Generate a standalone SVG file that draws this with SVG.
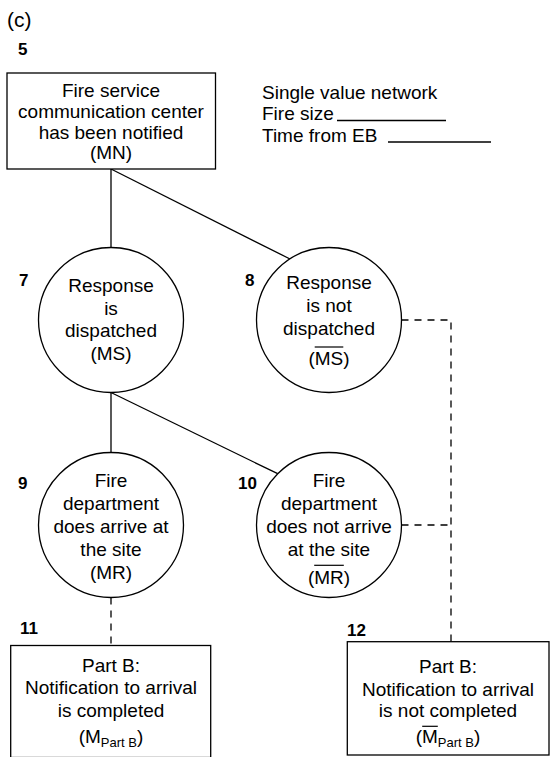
<svg xmlns="http://www.w3.org/2000/svg" width="550" height="757" viewBox="0 0 550 757">
  <style>
    text { font-family: "Liberation Sans", Arial, Helvetica, sans-serif; fill: #000; }
    .t { font-size: 19px; text-anchor: middle; }
    .l { font-size: 19px; }
    .cap { font-size: 21px; }
    .num { font-size: 17px; font-weight: bold; }
    .sub { font-size: 13px; }
    .shape { fill: #fff; stroke: #000; stroke-width: 1.3; }
    .edge { fill: none; stroke: #000; stroke-width: 1.3; }
    .dash { fill: none; stroke: #000; stroke-width: 1.3; stroke-dasharray: 7 6; }
    .bar { stroke: #000; stroke-width: 1.2; }
  </style>
  <rect width="550" height="757" fill="#fff"/>

  <text class="cap" x="7" y="27">(c)</text>

  <!-- connectors -->
  <g id="connectors">
    <line class="edge" x1="111" y1="169" x2="111" y2="247.5"/>
    <line class="edge" x1="111" y1="169" x2="290" y2="259"/>
    <line class="edge" x1="111" y1="392.5" x2="111" y2="452.5"/>
    <line class="edge" x1="111" y1="392.5" x2="277.7" y2="473.7"/>
    <polyline class="dash" points="401.5,320 451,320 451,642"/>
    <line class="dash" x1="401.5" y1="525" x2="451" y2="525"/>
    <line class="dash" x1="111" y1="597.5" x2="111" y2="645.5"/>
  </g>

  <!-- legend -->
  <g id="legend">
    <text class="l" x="262" y="98.5">Single value network</text>
    <text class="l" x="262" y="120">Fire size</text>
    <line class="edge" x1="337" y1="120.5" x2="446" y2="120.5"/>
    <text class="l" x="262" y="141.5">Time from EB</text>
    <line class="edge" x1="388" y1="142" x2="491" y2="142"/>
  </g>

  <!-- node 5 -->
  <g id="node5">
    <text class="num" x="18" y="55">5</text>
    <rect class="shape" x="7" y="73" width="208.5" height="96"/>
    <text class="t" x="111" y="97.3">Fire service</text>
    <text class="t" x="111" y="118.3">communication center</text>
    <text class="t" x="111" y="138.5">has been notified</text>
    <text class="t" x="111" y="158.5">(MN)</text>
  </g>

  <!-- node 7 -->
  <g id="node7">
    <text class="num" x="19" y="285.7">7</text>
    <circle class="shape" cx="111" cy="320" r="72.5"/>
    <text class="t" x="111" y="291.7">Response</text>
    <text class="t" x="111" y="314.5">is</text>
    <text class="t" x="111" y="337">dispatched</text>
    <text class="t" x="111" y="360">(MS)</text>
  </g>

  <!-- node 8 -->
  <g id="node8">
    <text class="num" x="245" y="285.7">8</text>
    <circle class="shape" cx="329" cy="320" r="72.5"/>
    <text class="t" x="329" y="289.3">Response</text>
    <text class="t" x="329" y="311.7">is not</text>
    <text class="t" x="329" y="335">dispatched</text>
    <text class="t" x="329" y="364.5">(MS)</text>
    <line class="bar" x1="314.7" y1="347" x2="343.3" y2="347"/>
  </g>

  <!-- node 9 -->
  <g id="node9">
    <text class="num" x="18" y="489">9</text>
    <circle class="shape" cx="111" cy="525" r="72.5"/>
    <text class="t" x="111" y="487.3">Fire</text>
    <text class="t" x="111" y="509.5">department</text>
    <text class="t" x="111" y="532.7">does arrive at</text>
    <text class="t" x="111" y="555.5">the site</text>
    <text class="t" x="111" y="579.3">(MR)</text>
  </g>

  <!-- node 10 -->
  <g id="node10">
    <text class="num" x="238" y="489">10</text>
    <circle class="shape" cx="329" cy="525" r="72.5"/>
    <text class="t" x="329" y="487.3">Fire</text>
    <text class="t" x="329" y="509.5">department</text>
    <text class="t" x="329" y="532.7">does not arrive</text>
    <text class="t" x="329" y="555.5">at the site</text>
    <text class="t" x="329" y="584">(MR)</text>
    <line class="bar" x1="314.2" y1="565.3" x2="343.8" y2="565.3"/>
  </g>

  <!-- node 11 -->
  <g id="node11">
    <text class="num" x="20" y="634">11</text>
    <rect class="shape" x="10.7" y="645.5" width="200" height="112"/>
    <text class="t" x="111" y="671.7">Part B:</text>
    <text class="t" x="111" y="694">Notification to arrival</text>
    <text class="t" x="111" y="716.7">is completed</text>
    <text class="l" x="78.7" y="743">(M<tspan class="sub" dy="3.5">Part B</tspan><tspan dy="-3.5">)</tspan></text>
  </g>

  <!-- node 12 -->
  <g id="node12">
    <text class="num" x="347" y="635.7">12</text>
    <rect class="shape" x="347.3" y="641.7" width="201.7" height="113.3"/>
    <text class="t" x="448" y="673.3">Part B:</text>
    <text class="t" x="448" y="696">Notification to arrival</text>
    <text class="t" x="448" y="717.3">is not completed</text>
    <text class="l" x="415.7" y="743">(M<tspan class="sub" dy="3.5">Part B</tspan><tspan dy="-3.5">)</tspan></text>
    <line class="bar" x1="422.2" y1="726.3" x2="437.8" y2="726.3"/>
  </g>
</svg>
